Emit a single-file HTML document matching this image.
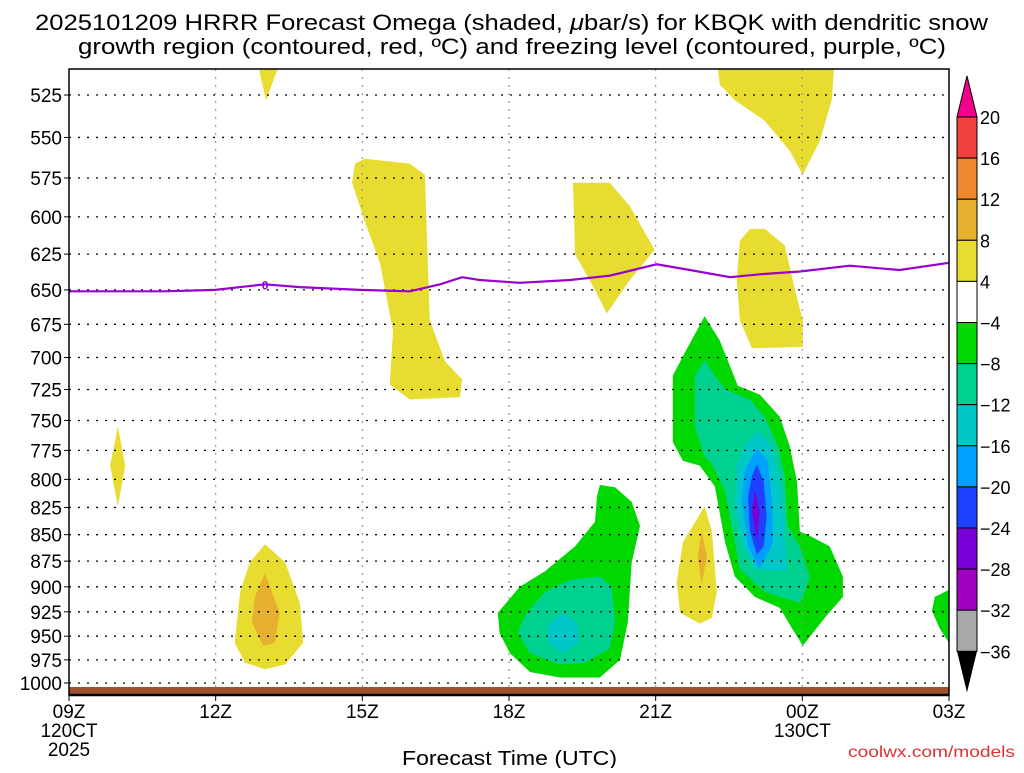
<!DOCTYPE html>
<html><head><meta charset="utf-8">
<style>
html,body{margin:0;padding:0;background:#fff;}
svg text{font-family:"Liberation Sans",sans-serif;}
</style></head>
<body>
<svg id="chart" width="1024" height="768" xmlns="http://www.w3.org/2000/svg">
<text x="35" y="30" font-size="22" textLength="953" lengthAdjust="spacingAndGlyphs" fill="#000">2025101209 HRRR Forecast Omega (shaded, <tspan font-style="italic">μ</tspan>bar/s) for KBQK with dendritic snow</text>
<text x="78" y="54" font-size="22" textLength="868" lengthAdjust="spacingAndGlyphs" fill="#000">growth region (contoured, red, ºC) and freezing level (contoured, purple, ºC)</text>
<g id="plot"></g>
<g id="cbar"></g>
<text x="402" y="765" font-size="20" textLength="215" lengthAdjust="spacingAndGlyphs" fill="#000">Forecast Time (UTC)</text>
<text x="848" y="757" font-size="16" textLength="167" lengthAdjust="spacingAndGlyphs" fill="#e03030">coolwx.com/models</text>
</svg>
<script>
// ---- data ----
const pressureTicks=[525,550,575,600,625,650,675,700,725,750,775,800,825,850,875,900,925,950,975,1000];
const timeTicks=[0,3,6,9,12,15,18];
const timeLabels=["09Z","12Z","15Z","18Z","21Z","00Z","03Z"];
const cbarLabels=["20","16","12","8","4","−4","−8","−12","−16","−20","−24","−28","−32","−36"];
const cbarColors=["#f04040","#f08830","#e8b030","#e8dc30","#ffffff","#00d800","#00d090","#00c8c8","#00a0ff","#2040ff","#7800d8","#a000c0","#a8a8a8"];
const freezeHours=[0,1.04,1.96,2.99,4.01,4.72,5.95,6.97,7.59,8.04,8.4,9.22,10.25,11.06,12.02,12.7,13.52,14.13,14.95,15.97,16.99,18];
const freezePres=[651,651,651,650,646,648,650,651,646,641,643,645,643,640,632,636,641,639,637,633,636,631];
const regions=[
 {name:"yellow-top-13z",color:"#e8dc30",pts:[[3.84,505],[4.34,505],[4.03,528]]},
 {name:"yellow-15z-upper",color:"#e8dc30",pts:[[5.85,566],[6.05,563],[6.97,566],[7.28,573],[7.34,631],[7.38,672],[7.69,703],[8.04,717],[8.0,731],[6.97,733],[6.56,721],[6.63,680],[6.36,631],[6.05,603],[5.79,578]]},
 {name:"yellow-20z",color:"#e8dc30",pts:[[10.31,578],[11.06,578],[11.47,593],[11.98,622],[11.47,643],[11.0,667],[10.76,650],[10.35,625]]},
 {name:"yellow-top-right",color:"#e8dc30",pts:[[13.25,505],[15.66,505],[15.6,528],[15.36,552],[15.01,573],[14.74,558],[14.23,540],[13.62,528],[13.31,519]]},
 {name:"yellow-23z-mid",color:"#e8dc30",pts:[[13.72,616],[13.93,608],[14.23,608],[14.64,619],[14.85,650],[15.01,672],[15.01,692],[13.97,693],[13.72,672],[13.66,643]]},
 {name:"yellow-10z",color:"#e8dc30",pts:[[1.0,755],[1.15,788],[1.0,824],[0.84,788]]},
 {name:"yellow-13z-low",color:"#e8dc30",pts:[[4.01,859],[4.42,876],[4.72,916],[4.79,957],[4.42,980],[4.01,985],[3.6,978],[3.39,957],[3.5,905],[3.7,876]]},
 {name:"orange-13z",color:"#e8b030",pts:[[4.01,887],[4.31,926],[4.21,957],[3.97,960],[3.74,936],[3.8,910]]},
 {name:"yellow-22z",color:"#e8dc30",pts:[[13.0,824],[13.15,847],[13.25,905],[13.15,931],[12.9,937],[12.5,926],[12.43,895],[12.56,857]]},
 {name:"orange-22z",color:"#e8b030",pts:[[12.94,847],[13.05,871],[12.94,898],[12.86,871]]},
 {name:"green-big",color:"#00d800",pts:[[13.0,669],[13.31,687],[13.68,722],[14.13,729],[14.54,747],[14.74,771],[14.89,802],[14.95,847],[15.11,850],[15.56,861],[15.83,890],[15.83,910],[15.46,931],[15.01,960],[14.79,942],[14.54,921],[14.03,910],[13.62,890],[13.42,857],[13.21,806],[12.9,788],[12.56,784],[12.35,768],[12.35,714],[12.6,696]]},
 {name:"teal-big",color:"#00d090",pts:[[13.0,702],[13.21,714],[13.42,725],[13.93,733],[14.23,747],[14.5,771],[14.64,797],[14.7,842],[14.95,861],[15.15,890],[15.05,905],[14.95,916],[14.23,905],[13.72,883],[13.62,857],[13.42,811],[13.17,788],[13.0,780],[12.8,755],[12.8,714]]},
 {name:"cyan-big",color:"#00c8c8",pts:[[14.09,759],[14.38,771],[14.58,811],[14.64,847],[14.68,885],[14.03,883],[13.78,861],[13.62,824],[13.66,788],[13.82,771]]},
 {name:"lightblue-big",color:"#00a0ff",pts:[[14.07,773],[14.29,784],[14.38,820],[14.4,857],[14.13,883],[13.89,861],[13.76,820],[13.82,793]]},
 {name:"blue-big",color:"#2040ff",pts:[[14.07,787],[14.21,802],[14.27,833],[14.21,861],[14.07,869],[13.93,847],[13.89,815],[13.97,797]]},
 {name:"purple-core",color:"#7800d8",pts:[[14.03,809],[14.13,829],[14.07,857],[13.97,829]]},
 {name:"green-18z",color:"#00d800",pts:[[10.86,805],[11.17,807],[11.51,820],[11.68,842],[11.51,876],[11.43,936],[11.27,975],[10.86,994],[10.04,994],[9.43,988],[9.02,968],[8.81,947],[8.77,926],[9.22,900],[9.73,885],[10.35,861],[10.76,838],[10.8,815]]},
 {name:"teal-18z",color:"#00d090",pts:[[10.86,890],[11.1,900],[11.17,936],[11.06,963],[10.55,978],[10.04,980],[9.43,968],[9.18,947],[9.33,928],[9.73,905],[10.25,893]]},
 {name:"cyan-18z",color:"#00c8c8",pts:[[10.08,926],[10.39,936],[10.43,957],[10.08,968],[9.8,957],[9.8,938]]},
 {name:"green-03z",color:"#00d800",pts:[[18,903],[17.71,910],[17.65,924],[17.81,942],[18,957]]}
];
// ---- axes ----
const X0=69,X1=949,Y0=69,Y1=695;
const xs=h=>X0+(X1-X0)*h/18;
const ys=p=>95+912.5*(Math.log(p)-Math.log(525));
const NS="http://www.w3.org/2000/svg";
function mk(tag,attrs,parent){const e=document.createElementNS(NS,tag);for(const k in attrs)e.setAttribute(k,attrs[k]);parent.appendChild(e);return e;}
const plot=document.getElementById('plot');
const clip=mk('clipPath',{id:'pc'},document.getElementById('chart'));
mk('rect',{x:X0,y:Y0,width:X1-X0,height:Y1-Y0},clip);
const inner=mk('g',{'clip-path':'url(#pc)'},plot);
regions.forEach(r=>{
 const p=mk('polygon',{points:r.pts.map(q=>xs(q[0]).toFixed(1)+','+ys(q[1]).toFixed(1)).join(' '),fill:r.color},inner);
 
 
});
// grid
timeTicks.slice(1,-1).forEach(t=>{
 const l=mk('line',{x1:xs(t),x2:xs(t),y1:Y0,y2:Y1,stroke:'#999','stroke-width':1.2,'stroke-dasharray':'2,6'},plot);
 
 
});
pressureTicks.forEach(p=>{
 const y=ys(p);
 const l=mk('line',{x1:X0,x2:X1,y1:y,y2:y,stroke:'#000','stroke-width':1.3,'stroke-dasharray':'2,7'},plot);
 
 
 const t=mk('text',{x:62,y:y+7,'font-size':19,'text-anchor':'end',fill:'#000'},plot);
 t.textContent=p;
 
 
 mk('line',{x1:64,x2:69,y1:y,y2:y,stroke:'#000'},plot);
});
// ground
const g=mk('rect',{x:X0,y:687,width:X1-X0,height:7,fill:'#a0522d'},plot);


// freezing line
const fl=mk('polyline',{points:freezeHours.map((h,i)=>xs(h).toFixed(1)+','+ys(freezePres[i]).toFixed(1)).join(' '),fill:'none',stroke:'#9a00d0','stroke-width':2.2},plot);


const fz=mk('text',{x:xs(4.01),y:ys(646)+5,'font-size':12,'text-anchor':'middle',fill:'#9a00d0','font-weight':'bold'},plot);
fz.textContent='0';


// frame
const fr=mk('rect',{x:X0,y:Y0,width:X1-X0,height:Y1-Y0,fill:'none',stroke:'#000','stroke-width':1.5},plot);


mk('line',{x1:X0,x2:X1,y1:Y1,y2:Y1,stroke:'#000','stroke-width':2.5},plot);
timeTicks.forEach((t,i)=>{
 mk('line',{x1:xs(t),x2:xs(t),y1:Y1,y2:Y1+6,stroke:'#000'},plot);
 const tx=mk('text',{x:xs(t),y:718,'font-size':19,'text-anchor':'middle',fill:'#000'},plot);
 tx.textContent=timeLabels[i];
 
 
});
[["120CT",0,737],["2025",0,756],["130CT",15,737]].forEach(a=>{
 const tx=mk('text',{x:xs(a[1]),y:a[2],'font-size':19,'text-anchor':'middle',fill:'#000'},plot);
 tx.textContent=a[0];
 
 
});
// colorbar
const cb=document.getElementById('cbar');
const CX=957,CW=20,CT=117,CS=41.1;
const tri=mk('polygon',{points:`${CX},${CT} ${CX+CW},${CT} ${CX+CW/2},${CT-CS}`,fill:'#f0008c',stroke:'#000'},cb);


cbarColors.forEach((c,i)=>{
 const r=mk('rect',{x:CX,y:CT+i*CS,width:CW,height:CS,fill:c,stroke:'#000','stroke-width':1},cb);
 
 
});
const bt=CT+cbarColors.length*CS;
const tri2=mk('polygon',{points:`${CX},${bt} ${CX+CW},${bt} ${CX+CW/2},${bt+CS}`,fill:'#000'},cb);


cbarLabels.forEach((l,i)=>{
 const t=mk('text',{x:980,y:CT+i*CS+7,'font-size':18,fill:'#000'},cb);
 t.textContent=l;
 
 
});
</script>
</body></html>
